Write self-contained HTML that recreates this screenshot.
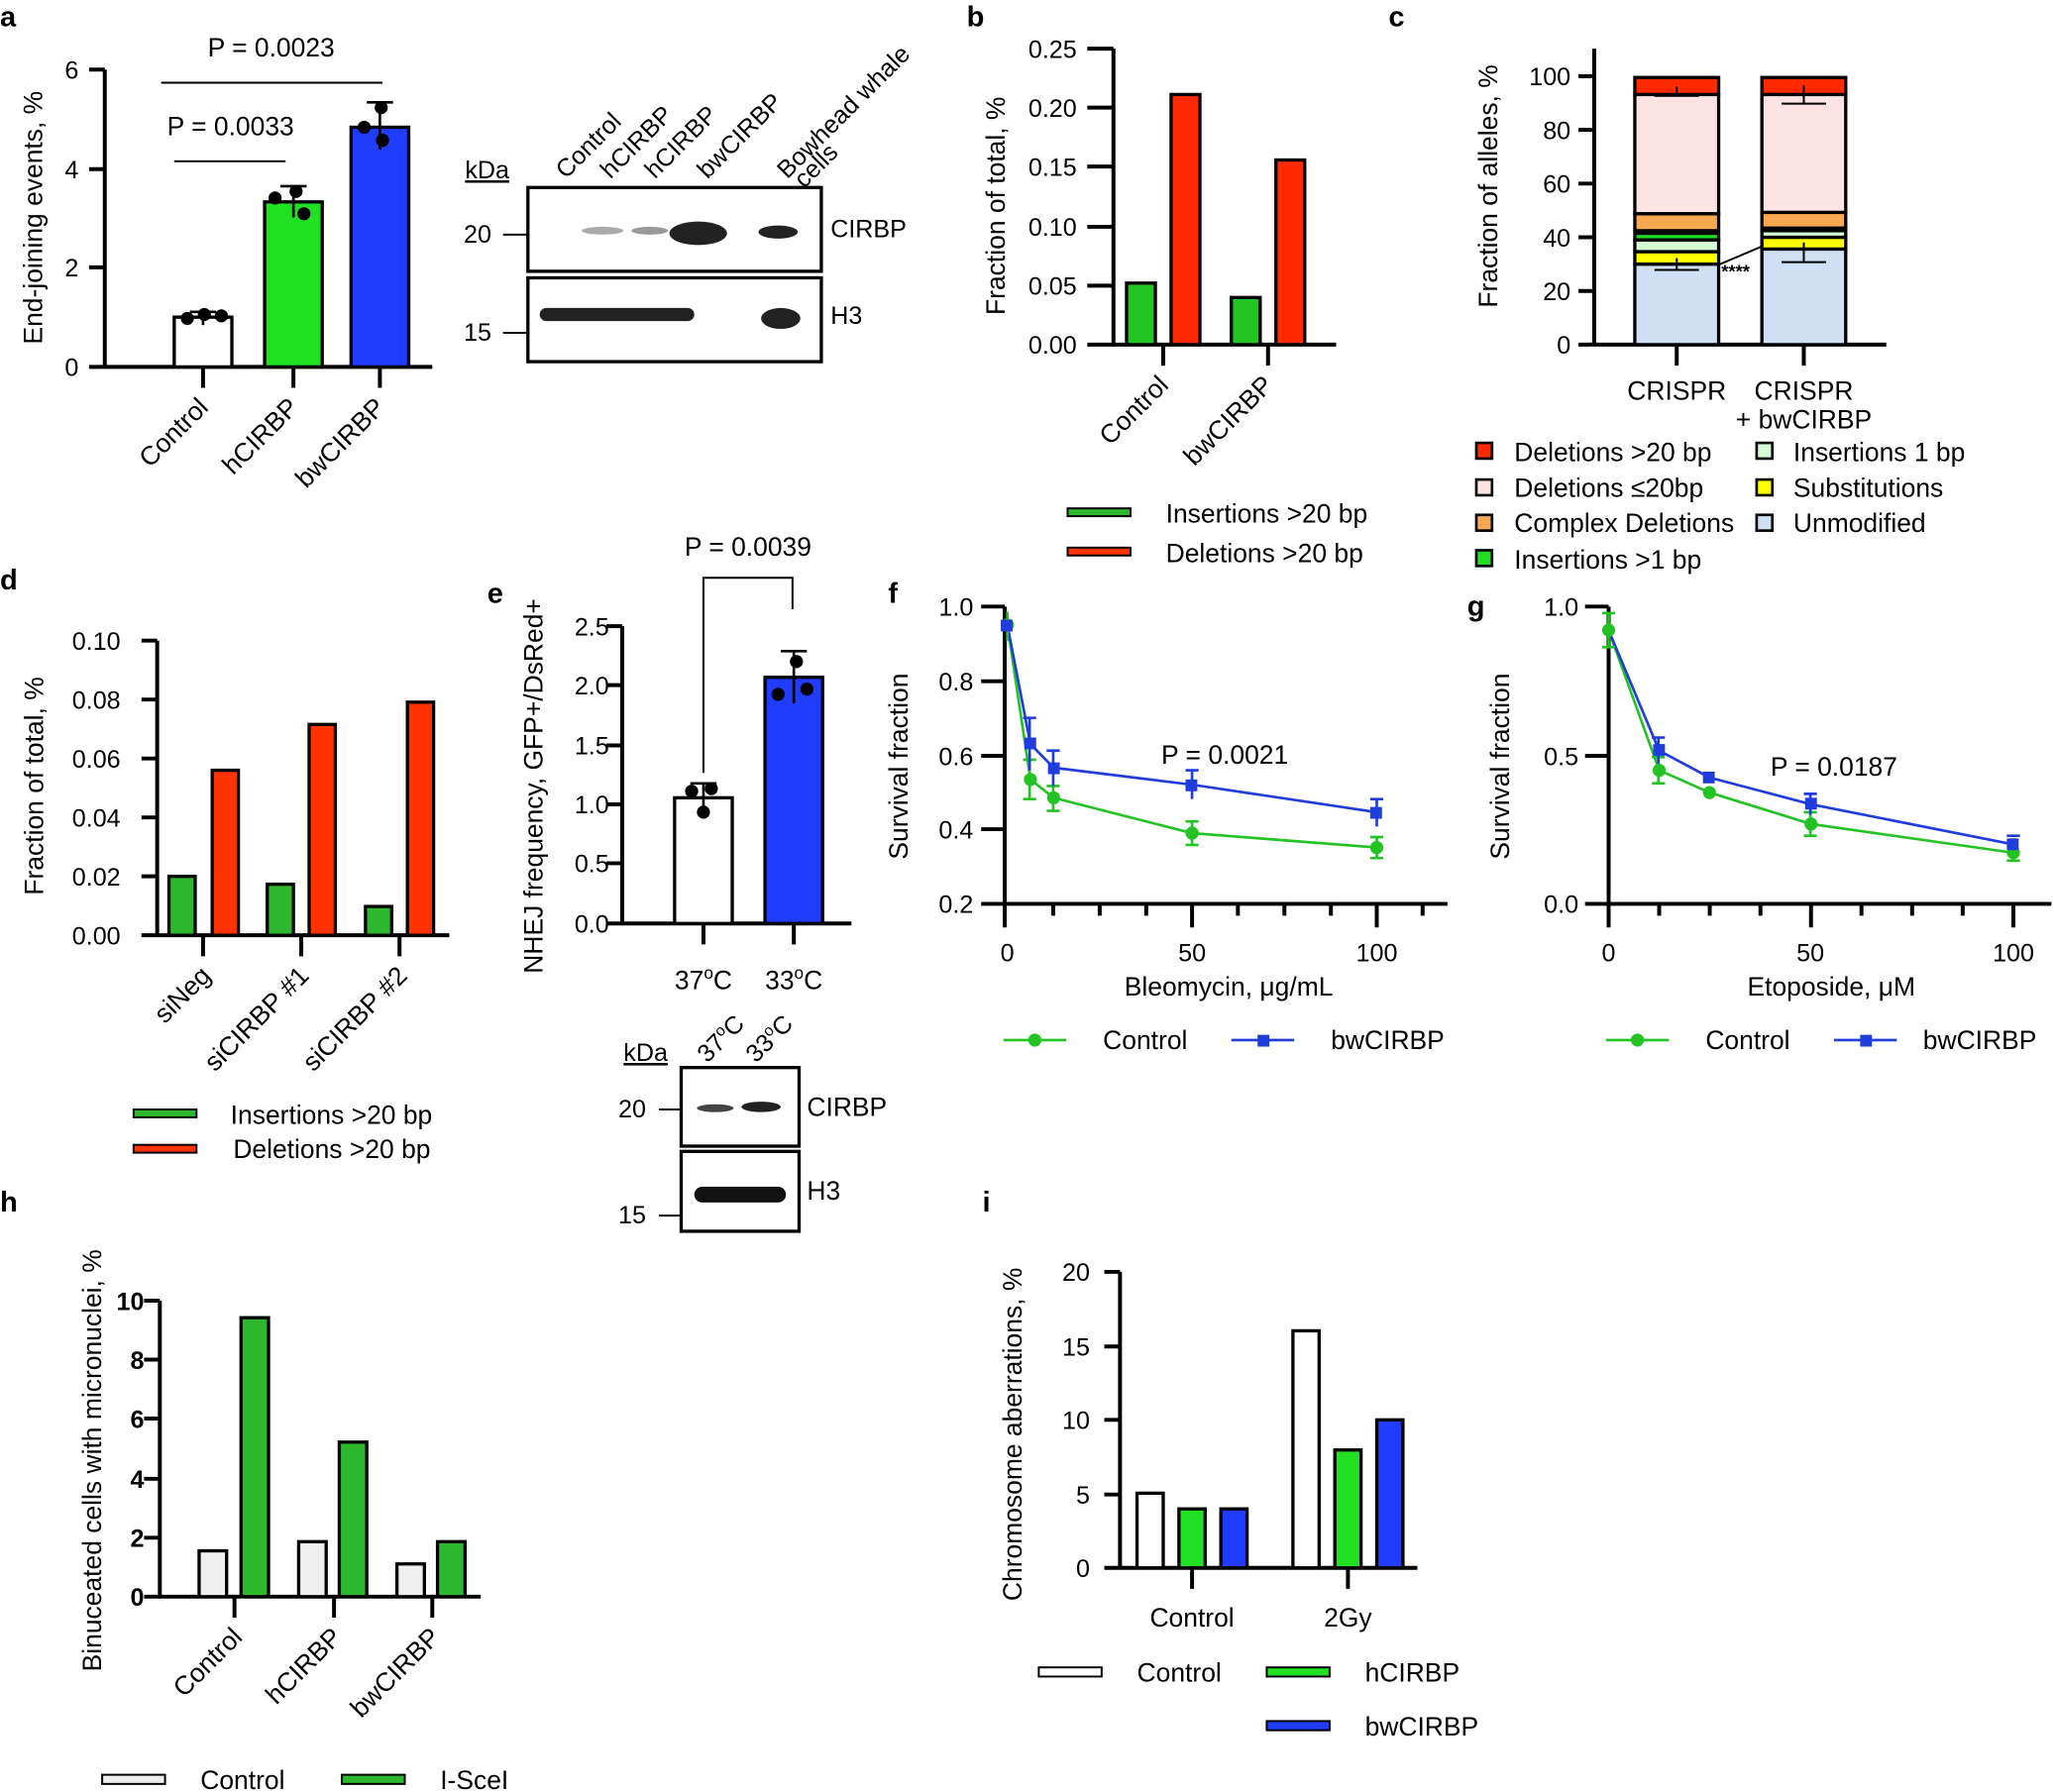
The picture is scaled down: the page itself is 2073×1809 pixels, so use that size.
<!DOCTYPE html>
<html><head><meta charset="utf-8"><style>
html,body{margin:0;padding:0;background:#fff}
svg{display:block}
text{font-family:"Liberation Sans",Arial,sans-serif;fill:#000}
.t{font-size:19px}
.l{font-size:20px}
.p{font-size:22px;font-weight:bold}
.ax{stroke:#000;stroke-width:3;fill:none}
.bar{stroke:#000;stroke-width:2.5}
</style></head><body>
<svg width="2073" height="1809" viewBox="0 0 1568 1368" xmlns="http://www.w3.org/2000/svg">
<!-- Panel a -->
<text class="p" x="0" y="20">a</text>
<path class="ax" d="M80,53V280H330M68,53H80M68,129H80M68,204H80M68,280H80M155,280V296M224,280V296M290,280V296"/>
<text class="t" x="60" y="60" text-anchor="end">6</text>
<text class="t" x="60" y="136" text-anchor="end">4</text>
<text class="t" x="60" y="211" text-anchor="end">2</text>
<text class="t" x="60" y="287" text-anchor="end">0</text>
<text class="l" transform="translate(32,166) rotate(-90)" text-anchor="middle">End-joining events, %</text>
<rect class="bar" x="133" y="242" width="44" height="38" fill="#fff"/>
<rect class="bar" x="202" y="154" width="44" height="126" fill="#22e022"/>
<rect class="bar" x="268" y="97" width="44" height="183" fill="#1f3cff"/>
<path stroke="#000" stroke-width="2" d="M155,238V248M145,238H165M224,142V166M214,142H234M290,78V114M280,78H300"/>
<g fill="#000"><circle cx="143" cy="243" r="5"/><circle cx="156" cy="240" r="5"/><circle cx="169" cy="241" r="5"/>
<circle cx="210" cy="151" r="5"/><circle cx="226" cy="146" r="5"/><circle cx="232" cy="163" r="5"/>
<circle cx="278" cy="97" r="5"/><circle cx="291" cy="82" r="5"/><circle cx="292" cy="107" r="5"/></g>
<path stroke="#000" stroke-width="1.5" d="M123,63H292M133,123H218"/>
<text class="l" x="207" y="43" text-anchor="middle">P = 0.0023</text>
<text class="l" x="176" y="103" text-anchor="middle">P = 0.0033</text>
<text class="l" transform="translate(160,312) rotate(-45)" text-anchor="end">Control</text>
<text class="l" transform="translate(229,312) rotate(-45)" text-anchor="end">hCIRBP</text>
<text class="l" transform="translate(295,312) rotate(-45)" text-anchor="end">bwCIRBP</text>
<!-- blot a -->
<text class="t" x="355" y="136" text-decoration="underline">kDa</text>
<text class="t" transform="translate(432,137) rotate(-45)">Control</text>
<text class="t" transform="translate(466,137) rotate(-45)">hCIRBP</text>
<text class="t" transform="translate(500,137) rotate(-45)">hCIRBP</text>
<text class="t" transform="translate(540,137) rotate(-45)">bwCIRBP</text>
<text class="t" transform="translate(601,137) rotate(-45)">Bowhead whale</text>
<text class="t" transform="translate(628,130) rotate(-45)" x="-20">cells</text>
<rect x="403" y="143" width="224" height="64" fill="#fff" stroke="#000" stroke-width="2.5"/>
<rect x="403" y="212" width="224" height="64" fill="#fff" stroke="#000" stroke-width="2.5"/>
<g fill="#222"><ellipse cx="460" cy="176" rx="16" ry="3" fill="#aaa"/><ellipse cx="496" cy="176" rx="14" ry="3" fill="#999"/>
<ellipse cx="533" cy="178" rx="22" ry="9"/><ellipse cx="594" cy="177" rx="15" ry="5"/>
<rect x="412" y="235" width="118" height="10" rx="5"/><ellipse cx="596" cy="243" rx="15" ry="8"/></g>
<path stroke="#000" stroke-width="1.5" d="M384,179H403M384,254H403"/>
<text class="t" x="354" y="185">20</text>
<text class="t" x="354" y="260">15</text>
<text class="t" x="634" y="181">CIRBP</text>
<text class="t" x="634" y="247">H3</text>
<!-- Panel b -->
<text class="p" x="738" y="20">b</text>
<path class="ax" d="M850,37V263M830,263H1020M830,37H850M830,82H850M830,127H850M830,173H850M830,218H850M888,263V279M968,263V279"/>
<g class="t" text-anchor="end"><text x="822" y="44">0.25</text><text x="822" y="89">0.20</text><text x="822" y="134">0.15</text><text x="822" y="180">0.10</text><text x="822" y="225">0.05</text><text x="822" y="270">0.00</text></g>
<text class="l" transform="translate(767,157) rotate(-90)" text-anchor="middle">Fraction of total, %</text>
<rect class="bar" x="860" y="216" width="22" height="47" fill="#22c522"/>
<rect class="bar" x="894" y="72" width="22" height="191" fill="#ff2a00"/>
<rect class="bar" x="940" y="227" width="22" height="36" fill="#22c522"/>
<rect class="bar" x="974" y="122" width="22" height="141" fill="#ff2a00"/>
<text class="l" transform="translate(893,295) rotate(-45)" text-anchor="end">Control</text>
<text class="l" transform="translate(973,295) rotate(-45)" text-anchor="end">bwCIRBP</text>
<rect x="815" y="388" width="48" height="6" fill="#2db82d" stroke="#000" stroke-width="1.5"/>
<rect x="815" y="418" width="48" height="6" fill="#ff3300" stroke="#000" stroke-width="1.5"/>
<text class="l" x="890" y="399">Insertions &gt;20 bp</text>
<text class="l" x="890" y="429">Deletions &gt;20 bp</text>
<!-- Panel c -->
<text class="p" x="1060" y="20">c</text>
<path class="ax" d="M1217,37V263H1440M1205,58H1217M1205,99H1217M1205,140H1217M1205,181H1217M1205,222H1217M1205,263H1217M1280,263V279M1377,263V279"/>
<g class="t" text-anchor="end"><text x="1199" y="65">100</text><text x="1199" y="106">80</text><text x="1199" y="147">60</text><text x="1199" y="188">40</text><text x="1199" y="229">20</text><text x="1199" y="270">0</text></g>
<text class="l" transform="translate(1143,142) rotate(-90)" text-anchor="middle">Fraction of alleles, %</text>
<g class="bar">
<rect x="1248" y="201.5" width="64" height="61.5" fill="#cfe0f5"/>
<rect x="1248" y="192" width="64" height="9.5" fill="#ffff00"/>
<rect x="1248" y="183" width="64" height="9" fill="#d6fcd6"/>
<rect x="1248" y="178" width="64" height="5" fill="#22dd22"/>
<rect x="1248" y="163" width="64" height="13" fill="#f8a850"/>
<rect x="1248" y="72" width="64" height="91" fill="#fde3e3"/>
<rect x="1248" y="59" width="64" height="13" fill="#ff2a00"/>
<rect x="1345" y="190" width="64" height="73" fill="#cfe0f5"/>
<rect x="1345" y="181" width="64" height="9" fill="#ffff00"/>
<rect x="1345" y="176" width="64" height="5" fill="#d6fcd6"/>
<rect x="1345" y="162" width="64" height="12" fill="#f8a850"/>
<rect x="1345" y="72" width="64" height="90" fill="#fde3e3"/>
<rect x="1345" y="59" width="64" height="13" fill="#ff2a00"/>
</g>
<path stroke="#000" stroke-width="1.5" d="M1263,73H1297M1280,66V73M1263,206H1297M1280,197V206M1360,79H1394M1377,65V79M1360,200H1394M1377,185V200M1312,202L1345,188"/>
<text x="1314" y="212" style="font-size:14px;font-weight:bold">****</text>
<text class="l" x="1280" y="305" text-anchor="middle">CRISPR</text>
<text class="l" x="1377" y="305" text-anchor="middle">CRISPR</text>
<text class="l" x="1377" y="327" text-anchor="middle">+ bwCIRBP</text>
<g stroke="#000" stroke-width="2">
<rect x="1127" y="338" width="12" height="12" fill="#ff2a00"/>
<rect x="1127" y="366" width="12" height="12" fill="#fde3e3"/>
<rect x="1127" y="393" width="12" height="12" fill="#f8a850"/>
<rect x="1127" y="420" width="12" height="12" fill="#22dd22"/>
<rect x="1341" y="338" width="12" height="12" fill="#d6fcd6"/>
<rect x="1341" y="366" width="12" height="12" fill="#ffff00"/>
<rect x="1341" y="393" width="12" height="12" fill="#cfe0f5"/>
</g>
<g class="l"><text x="1156" y="352">Deletions &gt;20 bp</text><text x="1156" y="379">Deletions ≤20bp</text><text x="1156" y="406">Complex Deletions</text><text x="1156" y="434">Insertions &gt;1 bp</text>
<text x="1369" y="352">Insertions 1 bp</text><text x="1369" y="379">Substitutions</text><text x="1369" y="406">Unmodified</text></g>
<!-- Panel d -->
<text class="p" x="0" y="450">d</text>
<path class="ax" d="M120,489V714H343M108,489H120M108,534H120M108,579H120M108,624H120M108,669H120M108,714H120M155,714V730M230,714V730M305,714V730"/>
<g class="t" text-anchor="end"><text x="92" y="496">0.10</text><text x="92" y="541">0.08</text><text x="92" y="586">0.06</text><text x="92" y="631">0.04</text><text x="92" y="676">0.02</text><text x="92" y="721">0.00</text></g>
<text class="l" transform="translate(33,600) rotate(-90)" text-anchor="middle">Fraction of total, %</text>
<rect class="bar" x="129" y="669" width="20" height="45" fill="#2db82d"/>
<rect class="bar" x="162" y="588" width="20" height="126" fill="#ff3300"/>
<rect class="bar" x="204" y="675" width="20" height="39" fill="#2db82d"/>
<rect class="bar" x="236" y="553" width="20" height="161" fill="#ff3300"/>
<rect class="bar" x="279" y="692" width="20" height="22" fill="#2db82d"/>
<rect class="bar" x="311" y="536" width="20" height="178" fill="#ff3300"/>
<text class="l" transform="translate(162,746) rotate(-45)" text-anchor="end">siNeg</text>
<text class="l" transform="translate(237,746) rotate(-45)" text-anchor="end">siCIRBP #1</text>
<text class="l" transform="translate(312,746) rotate(-45)" text-anchor="end">siCIRBP #2</text>
<rect x="102" y="847" width="48" height="6" fill="#2db82d" stroke="#000" stroke-width="1.5"/>
<rect x="102" y="874" width="48" height="6" fill="#ff3300" stroke="#000" stroke-width="1.5"/>
<text class="l" x="176" y="858">Insertions &gt;20 bp</text>
<text class="l" x="178" y="884">Deletions &gt;20 bp</text>
<!-- Panel e -->
<text class="p" x="372" y="460">e</text>
<path class="ax" d="M475,478V705H650M463,478H475M463,523H475M463,569H475M463,614H475M463,659H475M463,705H475M537,705V721M606,705V721"/>
<g class="t" text-anchor="end"><text x="465" y="485">2.5</text><text x="465" y="530">2.0</text><text x="465" y="576">1.5</text><text x="465" y="621">1.0</text><text x="465" y="666">0.5</text><text x="465" y="712">0.0</text></g>
<text class="l" transform="translate(414,600) rotate(-90)" text-anchor="middle">NHEJ frequency, GFP+/DsRed+</text>
<rect class="bar" x="515" y="609" width="44" height="96" fill="#fff"/>
<rect class="bar" x="584" y="517" width="44" height="188" fill="#1f3cff"/>
<path stroke="#000" stroke-width="2" d="M537,598V620M527,598H547M606,497V537M596,497H616"/>
<g fill="#000"><circle cx="528" cy="604" r="5"/><circle cx="543" cy="602" r="5"/><circle cx="537" cy="620" r="5"/>
<circle cx="594" cy="530" r="5"/><circle cx="608" cy="505" r="5"/><circle cx="616" cy="526" r="5"/></g>
<path stroke="#000" stroke-width="1.5" fill="none" d="M537,590V441H605V465"/>
<text class="l" x="571" y="424" text-anchor="middle">P = 0.0039</text>
<text class="l" x="537" y="755" text-anchor="middle">37<tspan dy="-8" style="font-size:13px">o</tspan><tspan dy="8">C</tspan></text>
<text class="l" x="606" y="755" text-anchor="middle">33<tspan dy="-8" style="font-size:13px">o</tspan><tspan dy="8">C</tspan></text>
<text class="t" x="476" y="810" text-decoration="underline">kDa</text>
<text class="t" transform="translate(540,812) rotate(-45)">37<tspan dy="-7" style="font-size:12px">o</tspan><tspan dy="7">C</tspan></text>
<text class="t" transform="translate(577,812) rotate(-45)">33<tspan dy="-7" style="font-size:12px">o</tspan><tspan dy="7">C</tspan></text>
<rect x="520" y="815" width="90" height="60" fill="#fff" stroke="#000" stroke-width="2.5"/>
<rect x="520" y="879" width="90" height="61" fill="#fff" stroke="#000" stroke-width="2.5"/>
<ellipse cx="546" cy="846" rx="14" ry="3" fill="#444"/><ellipse cx="581" cy="845" rx="15" ry="4" fill="#222"/>
<rect x="530" y="906" width="70" height="12" rx="6" fill="#111"/>
<path stroke="#000" stroke-width="1.5" d="M503,847H520M503,928H520"/>
<text class="t" x="472" y="853">20</text><text class="t" x="472" y="934">15</text>
<text class="l" x="616" y="852">CIRBP</text><text class="l" x="616" y="916">H3</text>
<!-- Panel f -->
<text class="p" x="678" y="460">f</text>
<path class="ax" d="M767,463V708M749,463H767M749,520H767M749,577H767M749,633H767M749,690H1105M910,690V708M1051,690V708"/>
<g stroke="#000" stroke-width="3"><path d="M804,690v9M839.5,690v9M875,690v9M945,690v9M980.5,690v9M1016,690v9M1086,690v9"/></g>
<g class="t" text-anchor="end"><text x="743" y="470">1.0</text><text x="743" y="527">0.8</text><text x="743" y="584">0.6</text><text x="743" y="640">0.4</text><text x="743" y="697">0.2</text></g>
<g class="t" text-anchor="middle"><text x="769" y="734">0</text><text x="910" y="734">50</text><text x="1051" y="734">100</text></g>
<text class="l" x="938" y="760" text-anchor="middle">Bleomycin, μg/mL</text>
<text class="l" transform="translate(693,585) rotate(-90)" text-anchor="middle">Survival fraction</text>
<polyline fill="none" stroke="#22c322" stroke-width="2" points="769,477 786.6,595 804.3,609 910,636 1051,647"/>
<polyline fill="none" stroke="#1f3ddd" stroke-width="2" points="769,477 786.6,568 804.3,586 910,599 1051,620"/>
<g stroke="#22c322" stroke-width="2"><path d="M769,467V489M786,580V610M804,600V619M910,627V645M1051,639V655M781,580h10M781,610h10M799,600h10M799,619h10M905,627h10M905,645h10M1046,639h10M1046,655h10"/></g>
<g stroke="#1f3ddd" stroke-width="2"><path d="M786,548V588M804,573V600M910,588V610M1051,610V631M781,548h10M799,573h10M905,588h10M1046,610h10"/></g>
<g fill="#22c322"><circle cx="786.6" cy="595" r="5"/><circle cx="804.3" cy="609" r="5"/><circle cx="910" cy="636" r="5"/><circle cx="1051" cy="647" r="5"/><circle cx="769" cy="477" r="5"/></g>
<g fill="#1f3ddd"><rect x="782" y="563" width="9" height="9"/><rect x="800" y="582" width="9" height="9"/><rect x="905" y="595" width="9" height="9"/><rect x="1046" y="616" width="9" height="9"/><rect x="764" y="473" width="9" height="9"/></g>
<text class="l" x="935" y="583" text-anchor="middle">P = 0.0021</text>
<line x1="766" y1="794" x2="814" y2="794" stroke="#22c322" stroke-width="2"/><circle cx="790" cy="794" r="5" fill="#22c322"/>
<text class="l" x="842" y="801">Control</text>
<line x1="940" y1="794" x2="988" y2="794" stroke="#1f3ddd" stroke-width="2"/><rect x="960" y="790" width="9" height="9" fill="#1f3ddd"/>
<text class="l" x="1016" y="801">bwCIRBP</text>
<!-- Panel g -->
<text class="p" x="1120" y="470">g</text>
<path class="ax" d="M1228,463V708M1210,463H1228M1210,577H1228M1210,690H1566M1382.5,690V708M1537,690V708"/>
<g stroke="#000" stroke-width="3"><path d="M1266.6,690v9M1305.2,690v9M1343.9,690v9M1421,690v9M1459.7,690v9M1498.3,690v9"/></g>
<g class="t" text-anchor="end"><text x="1205" y="470">1.0</text><text x="1205" y="584">0.5</text><text x="1205" y="697">0.0</text></g>
<g class="t" text-anchor="middle"><text x="1228" y="734">0</text><text x="1382" y="734">50</text><text x="1537" y="734">100</text></g>
<text class="l" x="1398" y="760" text-anchor="middle">Etoposide, μM</text>
<text class="l" transform="translate(1152,585) rotate(-90)" text-anchor="middle">Survival fraction</text>
<polyline fill="none" stroke="#22c322" stroke-width="2" points="1228,481 1266.6,588 1305,605 1382.5,629 1537,651"/>
<polyline fill="none" stroke="#1f3ddd" stroke-width="2" points="1228,481 1266.6,573 1305,593.5 1382.5,614 1537,644.6"/>
<g stroke="#22c322" stroke-width="2"><path d="M1228,468V494M1266,578V598M1382,620V638M1537,645V657M1223,468h10M1223,494h10M1261,578h10M1261,598h10M1377,620h10M1377,638h10M1532,657h10"/></g>
<g stroke="#1f3ddd" stroke-width="2"><path d="M1266,563V583M1382,606V622M1261,563h10M1377,606h10M1532,638h10"/></g>
<g fill="#22c322"><circle cx="1228" cy="481" r="5"/><circle cx="1266.6" cy="588" r="5"/><circle cx="1305" cy="605" r="5"/><circle cx="1382.5" cy="629" r="5"/><circle cx="1537" cy="651" r="5"/></g>
<g fill="#1f3ddd"><rect x="1262" y="568" width="9" height="9"/><rect x="1300" y="589" width="9" height="9"/><rect x="1378" y="609" width="9" height="9"/><rect x="1532" y="640" width="9" height="9"/></g>
<text class="l" x="1400" y="592" text-anchor="middle">P = 0.0187</text>
<line x1="1226" y1="794" x2="1274" y2="794" stroke="#22c322" stroke-width="2"/><circle cx="1250" cy="794" r="5" fill="#22c322"/>
<text class="l" x="1302" y="801">Control</text>
<line x1="1400" y1="794" x2="1448" y2="794" stroke="#1f3ddd" stroke-width="2"/><rect x="1420" y="790" width="9" height="9" fill="#1f3ddd"/>
<text class="l" x="1468" y="801">bwCIRBP</text>
<!-- Panel h -->
<text class="p" x="0" y="925">h</text>
<path class="ax" d="M122,993V1219H367M110,993H122M110,1038H122M110,1083H122M110,1129H122M110,1174H122M110,1219H122M179,1219V1235M255,1219V1235M330,1219V1235"/>
<g class="t" text-anchor="end" style="font-weight:bold"><text x="110" y="1000">10</text><text x="110" y="1045">8</text><text x="110" y="1090">6</text><text x="110" y="1136">4</text><text x="110" y="1181">2</text><text x="110" y="1226">0</text></g>
<text class="l" transform="translate(77,1115) rotate(-90)" text-anchor="middle">Binuceated cells with micronuclei, %</text>
<rect class="bar" x="152" y="1184" width="21" height="35" fill="#eeeeee"/>
<rect class="bar" x="184" y="1006" width="21" height="213" fill="#2db82d"/>
<rect class="bar" x="228" y="1177" width="21" height="42" fill="#eeeeee"/>
<rect class="bar" x="259" y="1101" width="21" height="118" fill="#2db82d"/>
<rect class="bar" x="303" y="1194" width="21" height="25" fill="#eeeeee"/>
<rect class="bar" x="334" y="1177" width="21" height="42" fill="#2db82d"/>
<text class="l" transform="translate(186,1251) rotate(-45)" text-anchor="end">Control</text>
<text class="l" transform="translate(262,1251) rotate(-45)" text-anchor="end">hCIRBP</text>
<text class="l" transform="translate(337,1251) rotate(-45)" text-anchor="end">bwCIRBP</text>
<rect x="78" y="1355" width="48" height="7" fill="#eeeeee" stroke="#000" stroke-width="1.5"/>
<text class="l" x="153" y="1366">Control</text>
<rect x="261" y="1355" width="48" height="7" fill="#2db82d" stroke="#000" stroke-width="1.5"/>
<text class="l" x="336" y="1366">I-SceI</text>
<!-- Panel i -->
<text class="p" x="750" y="925">i</text>
<path class="ax" d="M855,971V1197H1082M843,971H855M843,1028H855M843,1084H855M843,1141H855M843,1197H855M910,1197V1213M1029,1197V1213"/>
<g class="t" text-anchor="end"><text x="832" y="978">20</text><text x="832" y="1035">15</text><text x="832" y="1091">10</text><text x="832" y="1148">5</text><text x="832" y="1204">0</text></g>
<text class="l" transform="translate(780,1095) rotate(-90)" text-anchor="middle">Chromosome aberrations, %</text>
<rect class="bar" x="868" y="1140" width="20" height="57" fill="#fff"/>
<rect class="bar" x="900" y="1152" width="20" height="45" fill="#22e022"/>
<rect class="bar" x="932" y="1152" width="20" height="45" fill="#1f3cff"/>
<rect class="bar" x="987" y="1016" width="20" height="181" fill="#fff"/>
<rect class="bar" x="1019" y="1107" width="20" height="90" fill="#22e022"/>
<rect class="bar" x="1051" y="1084" width="20" height="113" fill="#1f3cff"/>
<text class="l" x="910" y="1242" text-anchor="middle">Control</text>
<text class="l" x="1029" y="1242" text-anchor="middle">2Gy</text>
<rect x="793" y="1273" width="48" height="7" fill="#fff" stroke="#000" stroke-width="1.5"/>
<text class="l" x="868" y="1284">Control</text>
<rect x="967" y="1273" width="48" height="7" fill="#22e022" stroke="#000" stroke-width="1.5"/>
<text class="l" x="1042" y="1284">hCIRBP</text>
<rect x="967" y="1314" width="48" height="7" fill="#1f3cff" stroke="#000" stroke-width="1.5"/>
<text class="l" x="1042" y="1325">bwCIRBP</text>
</svg>
</body></html>
